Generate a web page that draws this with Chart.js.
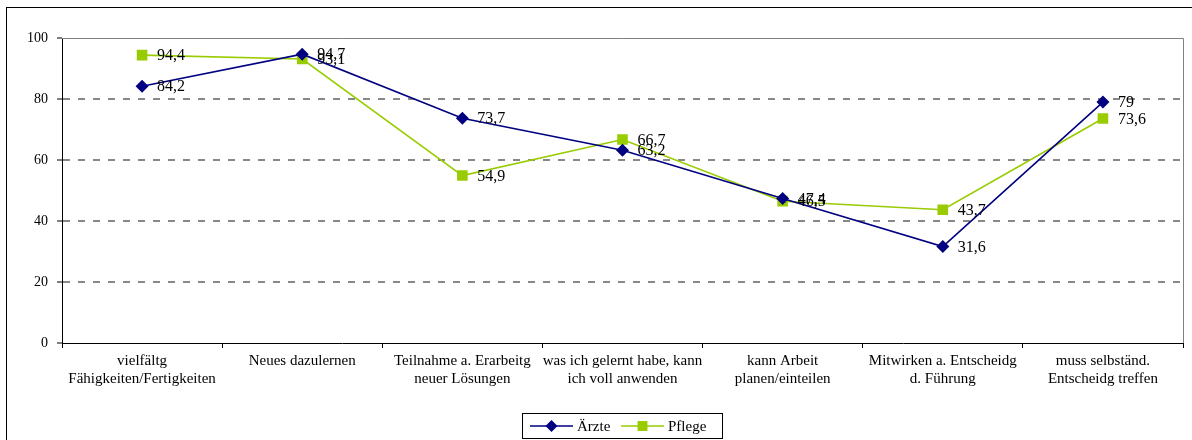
<!DOCTYPE html>
<html><head><meta charset="utf-8">
<script src="https://cdn.jsdelivr.net/npm/chart.js@4.4.1/dist/chart.umd.min.js"></script>
<style>html,body{margin:0;padding:0;background:#fff;overflow:hidden}</style>
</head><body>
<canvas id="c" width="1192" height="440"></canvas>
<script>
const categories = [
  ["vielfältg","Fähigkeiten/Fertigkeiten"],
  ["Neues dazulernen"],
  ["Teilnahme a. Erarbeitg","neuer Lösungen"],
  ["was ich gelernt habe, kann","ich voll anwenden"],
  ["kann Arbeit","planen/einteilen"],
  ["Mitwirken a. Entscheidg","d. Führung"],
  ["muss selbständ.","Entscheidg treffen"]
];
const aerzteValues = [84.2, 94.7, 73.7, 63.2, 47.4, 31.6, 79];
const pflegeValues = [94.4, 93.1, 54.9, 66.7, 46.5, 43.7, 73.6];
const seriesNames = ["Ärzte", "Pflege"];
const yTickValues = [0, 20, 40, 60, 80, 100];

const FONT = "'Liberation Serif', 'Times New Roman', serif";
const NAVY = '#000080';
const LIME = '#99CC00';

const decorations = {
  id: 'decorations',
  beforeDraw(chart) {
    const ctx = chart.ctx;
    ctx.save();
    ctx.fillStyle = '#fff';
    ctx.fillRect(0, 0, chart.width, chart.height);
    ctx.strokeStyle = '#000';
    ctx.lineWidth = 1;
    ctx.strokeRect(6.5, 7.5, 1200, 460);
    ctx.restore();
  },
  afterDatasetsDraw(chart) {
    const ctx = chart.ctx;
    const a = chart.chartArea;
    ctx.save();
    // plot frame (top & right, gray)
    ctx.strokeStyle = '#808080';
    ctx.lineWidth = 1;
    ctx.beginPath();
    ctx.moveTo(a.left, Math.round(a.top) + 0.5);
    ctx.lineTo(Math.round(a.right) + 0.5, Math.round(a.top) + 0.5);
    ctx.lineTo(Math.round(a.right) + 0.5, a.bottom);
    ctx.stroke();
    // data labels
    ctx.fillStyle = '#000';
    ctx.font = '16px ' + FONT;
    ctx.textBaseline = 'middle';
    ctx.textAlign = 'left';
    chart.data.datasets.forEach((ds, i) => {
      const meta = chart.getDatasetMeta(i);
      meta.data.forEach((pt, j) => {
        const txt = String(ds.data[j]).replace('.', ',');
        ctx.fillText(txt, pt.x + 15, pt.y + 1);
      });
    });
    // legend
    const lx = 522, ly = 413, lw = 200, lh = 25;
    ctx.strokeStyle = '#000';
    ctx.lineWidth = 1;
    ctx.strokeRect(lx + 0.5, ly + 0.5, lw, lh);
    const cy = ly + lh / 2 + 0.5;
    const items = [
      {x: 530, color: NAVY, style: 'rectRot', r: 6, label: chart.data.datasets[0].label},
      {x: 621, color: LIME, style: 'rect', r: 7, label: chart.data.datasets[1].label}
    ];
    items.forEach(it => {
      ctx.strokeStyle = it.color;
      ctx.lineWidth = 1.5;
      ctx.beginPath();
      ctx.moveTo(it.x, cy);
      ctx.lineTo(it.x + 43, cy);
      ctx.stroke();
      ctx.fillStyle = it.color;
      Chart.helpers.drawPoint(ctx, {pointStyle: it.style, radius: it.r, borderWidth: 0}, it.x + 21.5, cy);
      ctx.fillStyle = '#000';
      ctx.font = '15px ' + FONT;
      ctx.textBaseline = 'middle';
      ctx.fillText(it.label, it.x + 47, cy + 1);
    });
    ctx.restore();
  }
};

new Chart(document.getElementById('c'), {
  type: 'line',
  data: {
    labels: categories,
    datasets: [
      {
        label: seriesNames[0],
        data: aerzteValues,
        borderColor: NAVY,
        backgroundColor: NAVY,
        borderWidth: 1.6,
        pointStyle: 'rectRot',
        pointRadius: 6.5,
        pointHoverRadius: 6.5,
        pointBorderWidth: 0,
        tension: 0
      },
      {
        label: seriesNames[1],
        data: pflegeValues,
        borderColor: LIME,
        backgroundColor: LIME,
        borderWidth: 1.6,
        pointStyle: 'rect',
        pointRadius: 7.5,
        pointHoverRadius: 7.5,
        pointBorderWidth: 0,
        tension: 0
      }
    ]
  },
  options: {
    responsive: false,
    animation: false,
    devicePixelRatio: 1,
    layout: {padding: {left: 0, top: 38, right: 9, bottom: 0}},
    plugins: {legend: {display: false}, tooltip: {enabled: false}},
    scales: {
      x: {
        type: 'category',
        offset: true,
        grid: {offset: true, drawOnChartArea: false, tickLength: 5, color: '#000', tickColor: '#000'},
        border: {color: '#000', width: 1},
        ticks: {
          font: {family: FONT, size: 15, lineHeight: 1.22},
          color: '#000',
          padding: 4,
          maxRotation: 0,
          autoSkip: false
        },
        afterFit(s) { s.height = 97; }
      },
      y: {
        min: 0,
        max: 100,
        afterBuildTicks(s) { s.ticks = yTickValues.map(v => ({value: v})); },
        ticks: {
          font: {family: FONT, size: 14},
          color: '#000',
          padding: 9
        },
        grid: {
          color: c => (c.tick && (c.tick.value === 0 || c.tick.value === 100)) ? 'rgba(0,0,0,0)' : '#888',
          tickBorderDash: [],
          tickColor: '#000',
          tickLength: 5,
          tickWidth: 1,
          lineWidth: 2
        },
        border: {color: '#000', width: 1, dash: [7, 8]},
        afterFit(s) { s.width = 62; }
      }
    }
  },
  plugins: [decorations]
});
</script>
</body></html>
